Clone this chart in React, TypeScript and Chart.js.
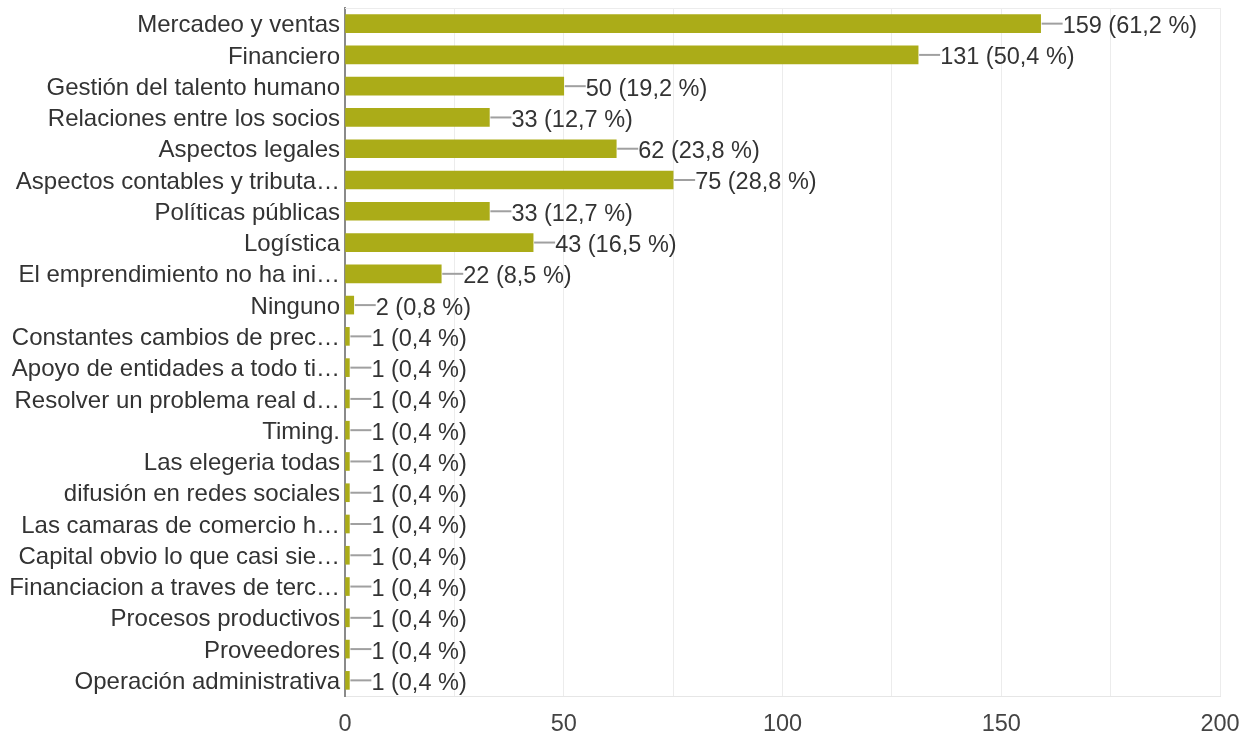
import React, { useEffect, useRef } from "react";
import { Chart, registerables } from "chart.js";

Chart.register(...registerables);

const categories = [
  "Mercadeo y ventas",
  "Financiero",
  "Gestión del talento humano",
  "Relaciones entre los socios",
  "Aspectos legales",
  "Aspectos contables y tributa…",
  "Políticas públicas",
  "Logística",
  "El emprendimiento no ha ini…",
  "Ninguno",
  "Constantes cambios de prec…",
  "Apoyo de entidades a todo ti…",
  "Resolver un problema real d…",
  "Timing.",
  "Las elegeria todas",
  "difusión en redes sociales",
  "Las camaras de comercio h…",
  "Capital obvio lo que casi sie…",
  "Financiacion a traves de terc…",
  "Procesos productivos",
  "Proveedores",
  "Operación administrativa",
];

const counts = [159, 131, 50, 33, 62, 75, 33, 43, 22, 2, 1, 1, 1, 1, 1, 1, 1, 1, 1, 1, 1, 1];

const percents = [
  "61,2", "50,4", "19,2", "12,7", "23,8", "28,8", "12,7", "16,5", "8,5", "0,8",
  "0,4", "0,4", "0,4", "0,4", "0,4", "0,4", "0,4", "0,4", "0,4", "0,4", "0,4", "0,4",
];

const xTicks = [0, 50, 100, 150, 200];

const FONT = "'Liberation Sans', Arial, sans-serif";
const FONT_SIZE = 23.5;

const labelPlugin = {
  id: "barLabels",
  afterDatasetsDraw(chart: any) {
    const ctx = chart.ctx;
    const meta = chart.getDatasetMeta(0);
    ctx.save();
    meta.data.forEach((bar: any, i: number) => {
      const x = bar.x;
      const y = bar.y;
      ctx.strokeStyle = "#a0a0a0";
      ctx.lineWidth = 2;
      ctx.beginPath();
      ctx.moveTo(x + 1, y);
      ctx.lineTo(x + 22, y);
      ctx.stroke();
      ctx.fillStyle = "#333333";
      ctx.font = `${FONT_SIZE}px ${FONT}`;
      ctx.textAlign = "left";
      ctx.textBaseline = "middle";
      ctx.fillText(`${counts[i]} (${percents[i]} %)`, x + 22, y + 3);
    });
    ctx.restore();
  },
};

const borderPlugin = {
  id: "areaBorder",
  beforeDatasetsDraw(chart: any) {
    const { ctx, chartArea } = chart;
    ctx.save();
    ctx.strokeStyle = "#ececec";
    ctx.lineWidth = 1;
    ctx.beginPath();
    ctx.moveTo(chartArea.left, chartArea.top + 0.5);
    ctx.lineTo(chartArea.right, chartArea.top + 0.5);
    ctx.stroke();
    ctx.restore();
  },
};

export default function App() {
  const canvasRef = useRef<HTMLCanvasElement | null>(null);

  useEffect(() => {
    document.body.style.margin = "0";
    const canvas = canvasRef.current;
    if (!canvas) return;
    const chart = new Chart(canvas, {
      type: "bar",
      data: {
        labels: categories,
        datasets: [
          {
            data: counts,
            backgroundColor: "#abac18",
            borderWidth: 0,
            barThickness: 18,
          },
        ],
      },
      plugins: [labelPlugin, borderPlugin],
      options: {
        indexAxis: "y",
        animation: false,
        responsive: false,
        maintainAspectRatio: false,
        layout: { padding: { top: 8, right: 29, left: 0, bottom: 0 } },
        plugins: {
          legend: { display: false },
          tooltip: { enabled: false },
        },
        scales: {
          x: {
            min: 0,
            max: 200,
            ticks: {
              stepSize: 25,
              color: "#444444",
              font: { family: FONT, size: FONT_SIZE },
              padding: 14,
              maxRotation: 0,
              autoSkip: false,
              callback: (v: any) => (xTicks.includes(Number(v)) ? String(v) : ""),
            },
            grid: {
              color: "#ececec",
              lineWidth: 1,
              drawTicks: false,
            },
            border: { display: true, color: "#e6e6e6", width: 1 },
            afterFit: (scale: any) => {
              scale.height = 37;
              scale.paddingLeft = 0;
              scale.paddingRight = 0;
            },
          },
          y: {
            ticks: {
              color: "#333333",
              font: { family: FONT, size: 24 },
              padding: 5,
              labelOffset: 2,
              autoSkip: false,
            },
            grid: { display: false, drawTicks: false },
            border: { display: true, color: "#8a8a8a", width: 2 },
            afterFit: (scale: any) => {
              scale.width = 345;
              scale.paddingTop = 0;
              scale.paddingBottom = 0;
            },
          },
        },
      },
    });
    return () => chart.destroy();
  }, []);

  return (
    <div style={{ width: 1249, height: 733, position: "relative", background: "#fff" }}>
      <canvas ref={canvasRef} width={1249} height={733} style={{ display: "block" }} />
    </div>
  );
}
